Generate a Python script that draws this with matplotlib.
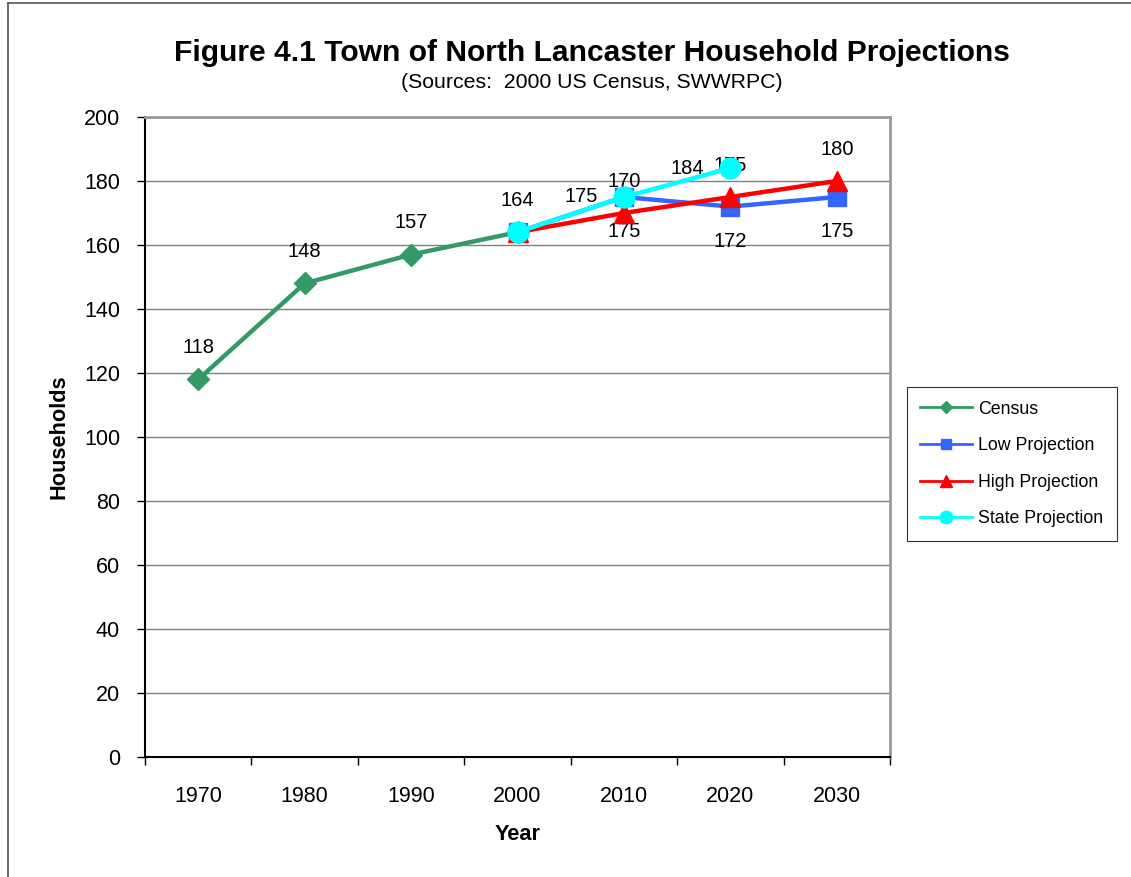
import matplotlib
matplotlib.use('Agg')
import matplotlib.pyplot as plt
from matplotlib.lines import Line2D

plt.rcParams['font.family'] = ['Liberation Sans', 'DejaVu Sans']

years = ['1970', '1980', '1990', '2000', '2010', '2020', '2030']
census = [118, 148, 157, 164]
low_proj = [164, 175, 172, 175]
high_proj = [164, 170, 175, 180]
state_proj = [164, 175, 184]

x_census = list(range(0, 4))
x_low = list(range(3, 7))
x_high = list(range(3, 7))
x_state = list(range(3, 6))

fig = plt.figure(figsize=(11.31, 8.77), dpi=100)
ax = fig.add_axes([145 / 1131, 1 - 757 / 877, 745 / 1131, 640 / 877])

ax.plot(x_census, census, color='#339966', lw=3.2, marker='D', ms=11, label='Census', zorder=3)
ax.plot(x_low, low_proj, color='#3366FF', lw=3.2, marker='s', ms=13, label='Low Projection', zorder=4)
ax.plot(x_high, high_proj, color='#FF0000', lw=3.2, marker='^', ms=14, label='High Projection', zorder=5)
ax.plot(x_state, state_proj, color='#00FFFF', lw=3.2, marker='o', ms=15, label='State Projection', zorder=6)

# data labels
lab_kw = dict(textcoords='offset points', ha='center', va='center', fontsize=14.5)
for xi, v in zip(x_census, census):
    ax.annotate(str(v), (xi, v), xytext=(0, 23), **lab_kw)
for xi, v in zip(x_high[1:], high_proj[1:]):
    ax.annotate(str(v), (xi, v), xytext=(0, 23), **lab_kw)
for xi, v in zip(x_low[1:], low_proj[1:]):
    ax.annotate(str(v), (xi, v), xytext=(0, -25), **lab_kw)
for xi, v in zip(x_state[1:], state_proj[1:]):
    ax.annotate(str(v), (xi, v), xytext=(-31, 0), **lab_kw)

ax.set_xlim(-0.5, 6.5)
ax.set_ylim(0, 200)
ax.set_yticks(range(0, 201, 20))
ax.set_xticks(range(7))
ax.set_xticklabels(years)
ax.set_xticks([i - 0.5 for i in range(8)], minor=True)
ax.tick_params(axis='x', which='major', length=0, pad=21, labelsize=15.5)
ax.tick_params(axis='x', which='minor', length=6, width=1, color='black', direction='out')
ax.tick_params(axis='y', length=6, width=1, direction='out', labelsize=15.5, pad=12)
ax.grid(axis='y', color='#808080', lw=1)
ax.set_axisbelow(True)

ax.spines['top'].set_color('#999999')
ax.spines['right'].set_color('#999999')
ax.spines['top'].set_linewidth(2)
ax.spines['right'].set_linewidth(2)
ax.spines['left'].set_linewidth(1.5)
ax.spines['bottom'].set_linewidth(1.5)

ax.set_xlabel('Year', fontsize=15.7, fontweight='bold', labelpad=12)
ax.set_ylabel('Households', fontsize=15.7, fontweight='bold', labelpad=10)

fig.text(592 / 1131, 1 - 53 / 877, 'Figure 4.1 Town of North Lancaster Household Projections',
         ha='center', va='center', fontsize=21.6, fontweight='bold')
fig.text(592 / 1131, 1 - 83 / 877, '(Sources:  2000 US Census, SWWRPC)',
         ha='center', va='center', fontsize=15.3)

leg = fig.legend(loc='center left', bbox_to_anchor=(907 / 1131, 1 - 464 / 877),
                 fontsize=12.8, frameon=True, fancybox=False, edgecolor='black',
                 markerscale=0.6, handlelength=2.9, handletextpad=0.35,
                 labelspacing=1.1, borderpad=0.75, borderaxespad=0)
leg.get_frame().set_linewidth(0.8)
for h in leg.legend_handles:
    h.set_linewidth(2)

# outer chart border (top and left visible)
fig.add_artist(Line2D([8 / 1131, 8 / 1131], [0, 1 - 3 / 877], color='#555555', lw=1.2))
fig.add_artist(Line2D([8 / 1131, 1], [1 - 3 / 877, 1 - 3 / 877], color='#555555', lw=1.2))

fig.savefig('out.png', dpi=100)
